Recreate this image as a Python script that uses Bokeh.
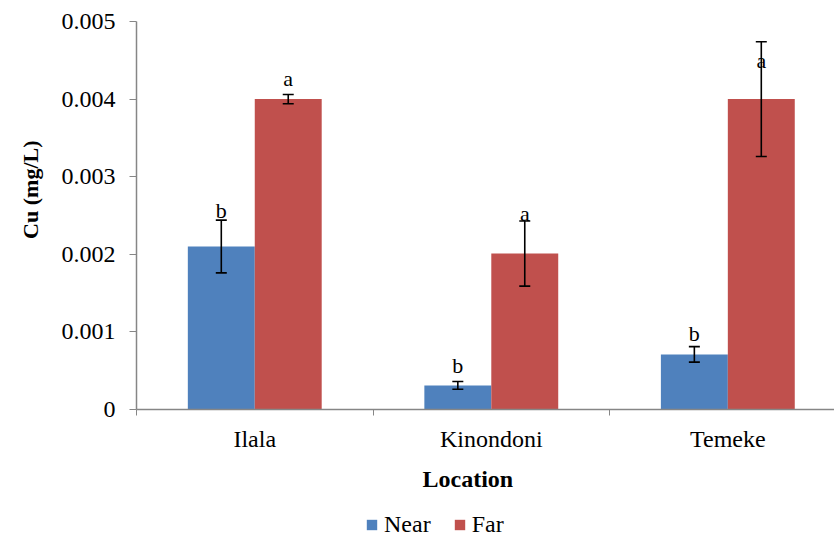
import numpy as np
from bokeh.plotting import figure
from bokeh.layouts import column
from bokeh.models import (ColumnDataSource, Whisker, TeeHead, Legend, FixedTicker,
                          Range1d, Title)
from bokeh.core.properties import value
from bokeh.embed import file_html
from bokeh.resources import INLINE

# ---- data ----
locations = ["Ilala", "Kinondoni", "Temeke"]
near_mean = [0.0021, 0.00031, 0.00071]
near_err = [0.00034, 0.00005, 0.0001]
far_mean = [0.0040, 0.00201, 0.0040]
far_err = [0.00006, 0.00042, 0.00074]
near_letters = ["b", "b", "b"]
far_letters = ["a", "a", "a"]
near_letter_y = [0.00257, 0.00057, 0.00098]
far_letter_y = [0.00427, 0.00253, 0.0045]
y_ticks = [0, 0.001, 0.002, 0.003, 0.004, 0.005]
y_tick_labels = ["0", "0.001", "0.002", "0.003", "0.004", "0.005"]
series_names = ["Near", "Far"]

NEAR_C = "#4F81BD"
FAR_C = "#C0504D"
AXIS_C = "#868686"
FONT = "Liberation Serif"

bar_w = 0.283
centers = np.arange(len(locations)) + 0.5
near_x = centers - bar_w / 2
far_x = centers + bar_w / 2

near_src = ColumnDataSource(dict(x=near_x, top=near_mean,
                                 upper=np.array(near_mean) + np.array(near_err),
                                 lower=np.array(near_mean) - np.array(near_err),
                                 ly=near_letter_y, lt=near_letters))
far_src = ColumnDataSource(dict(x=far_x, top=far_mean,
                                upper=np.array(far_mean) + np.array(far_err),
                                lower=np.array(far_mean) - np.array(far_err),
                                ly=far_letter_y, lt=far_letters))

p = figure(width=834, height=505, output_backend="svg", toolbar_location=None,
           x_range=Range1d(0, 2.951), y_range=Range1d(0, 0.005),
           min_border_left=136, min_border_top=21, min_border_right=0,
           min_border_bottom=96)
p.outline_line_color = None
p.xgrid.grid_line_color = None
p.ygrid.grid_line_color = None

r_near = p.vbar(x="x", top="top", width=bar_w, source=near_src,
                fill_color=NEAR_C, line_color=None)
r_far = p.vbar(x="x", top="top", width=bar_w, source=far_src,
               fill_color=FAR_C, line_color=None)

for src in (near_src, far_src):
    w = Whisker(source=src, base="x", upper="upper", lower="lower",
                line_color="black", line_width=1.6, level="annotation",
                upper_head=TeeHead(size=11, line_color="black", line_width=1.6),
                lower_head=TeeHead(size=11, line_color="black", line_width=1.6))
    p.add_layout(w)
    p.text(x="x", y="ly", text="lt", source=src, text_font=value(FONT),
           text_font_size="22px", text_align="center", text_baseline="middle",
           text_color="black")

# x axis
xa = p.xaxis[0]
xa.ticker = FixedTicker(ticks=list(centers), minor_ticks=[0, 1, 2, 3])
xa.major_label_overrides = {float(c): n for c, n in zip(centers, locations)}
xa.major_tick_out = 0
xa.major_tick_in = 0
xa.minor_tick_out = 6
xa.minor_tick_in = 0
xa.minor_tick_line_color = AXIS_C
xa.axis_line_color = AXIS_C
xa.axis_line_width = 1.5
xa.major_label_text_font = FONT
xa.major_label_text_font_size = "24px"
xa.major_label_text_color = "black"
xa.major_label_standoff = 10

# y axis
ya = p.yaxis[0]
ya.ticker = FixedTicker(ticks=y_ticks, minor_ticks=[])
ya.major_label_overrides = {t: l for t, l in zip(y_ticks, y_tick_labels)}
ya.major_tick_out = 7
ya.major_tick_in = 0
ya.major_tick_line_color = AXIS_C
ya.axis_line_color = AXIS_C
ya.axis_line_width = 1.5
ya.major_label_text_font = FONT
ya.major_label_text_font_size = "24px"
ya.major_label_text_color = "black"
ya.major_label_standoff = 14

# axis titles
p.add_layout(Title(text="Cu (mg/L)", align="right", offset=119,
                   vertical_align="middle", standoff=30,
                   text_font=FONT, text_font_style="bold", text_font_size="22px",
                   text_color="black"), "left")
p.add_layout(Title(text="Location", align="left", offset=286,
                   vertical_align="middle", standoff=20,
                   text_font=FONT, text_font_style="bold", text_font_size="24px",
                   text_color="black"), "below")

# legend strip below the chart (its own renderers lie outside its visible range)
lg = figure(width=834, height=35, output_backend="svg", toolbar_location=None,
            x_axis_location=None, y_axis_location=None,
            x_range=Range1d(100, 101), y_range=Range1d(0, 1),
            min_border_left=0, min_border_right=0, min_border_top=0,
            min_border_bottom=0)
lg.outline_line_color = None
lg.xgrid.grid_line_color = None
lg.ygrid.grid_line_color = None
lg_near = lg.vbar(x="x", top="top", width=bar_w, source=near_src,
                  fill_color=NEAR_C, line_color=None)
lg_far = lg.vbar(x="x", top="top", width=bar_w, source=far_src,
                 fill_color=FAR_C, line_color=None)

legend = Legend(items=[(series_names[0], [lg_near]), (series_names[1], [lg_far])],
                orientation="horizontal", location=(229, 2),
                border_line_color=None, background_fill_alpha=0,
                label_text_font=FONT, label_text_font_size="24px",
                label_text_color="black", padding=0, margin=0,
                glyph_width=13, glyph_height=13, spacing=22, label_standoff=6)
lg.add_layout(legend, "center")

layout = column(p, lg, spacing=0)
open("out.html", "w").write(file_html(layout, INLINE))
